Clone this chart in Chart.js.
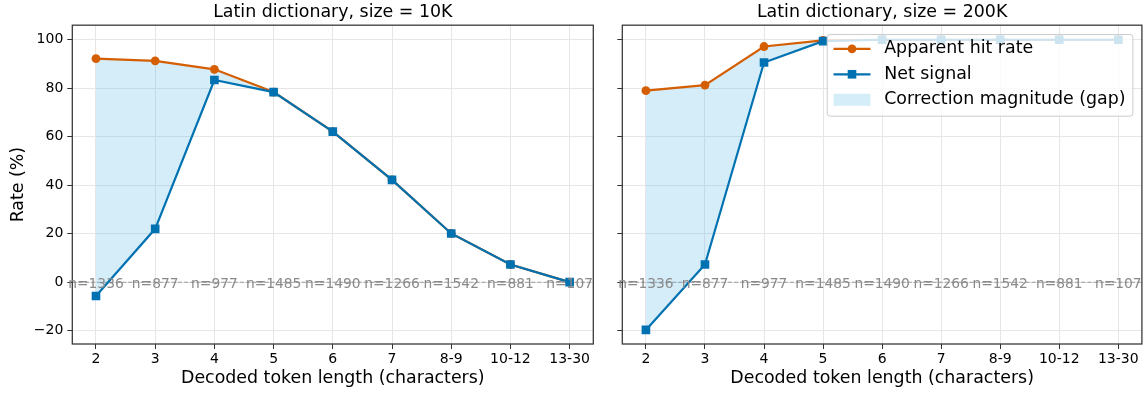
<!DOCTYPE html>
<html>
<head>
  <meta charset="utf-8">
  <title>Latin dictionary: apparent hit rate vs net signal</title>
  <script src="https://cdn.jsdelivr.net/npm/chart.js"></script>
  <style>
    body {
      margin: 0;
      background: #ffffff;
    }

    .panel {
      position: absolute;
      top: 0;
      height: 393px;
    }

    #left { left: 0; width: 600px; }
    #right { left: 600px; width: 548px; }
  </style>
</head>
<body>

  <div class="panel" id="left"><canvas id="chart10k"></canvas></div>
  <div class="panel" id="right"><canvas id="chart200k"></canvas></div>

  <script>
    // data
    const categories = ['2', '3', '4', '5', '6', '7', '8-9', '10-12', '13-30'];
    const sampleSizes = [1336, 877, 977, 1485, 1490, 1266, 1542, 881, 107];

    const apparent10k = [92.2, 91.3, 87.8, 78.4, 62.1, 42.2, 20.1, 7.3, 0.0];
    const net10k = [-5.7, 22.0, 83.4, 78.4, 62.1, 42.2, 20.1, 7.3, 0.0];

    const apparent200k = [79.0, 81.3, 97.2, 99.7, 100, 100, 100, 100, 100];
    const net200k = [-19.7, 7.3, 90.6, 99.4, 100, 100, 100, 100, 100];

    const yTicks = [-20, 0, 20, 40, 60, 80, 100];

    const ORANGE = '#D55E00';
    const BLUE = '#0072B2';
    const GAP_FILL = 'rgba(86,180,233,0.25)';
    const FONT = '"DejaVu Sans", sans-serif';

    Chart.defaults.font.family = FONT;
    Chart.defaults.color = '#000';

    const toPoints = vals => vals.map((v, i) => ({ x: i, y: v }));
    const fmtY = v => (v < 0 ? '\u2212' + Math.abs(v) : String(v));

    // matplotlib-style legend box, upper right inside the axes
    function drawLegend(chart) {
      const { ctx, chartArea: a } = chart;
      const fs = 17.4;
      const ds = chart.data.datasets;
      ctx.save();
      ctx.font = fs + 'px ' + FONT;
      const textW = Math.max(...ds.map(d => ctx.measureText(d.label).width));
      const pad = 6.3, handle = 37, gap = 13.7, rowH = 25.5;
      const w = pad + handle + gap + textW + pad + 1;
      const h = 81.7;
      const right = a.right - 9;
      const top = a.top + 9.3;
      const left = right - w;

      ctx.beginPath();
      ctx.roundRect(left, top, w, h, 3);
      ctx.fillStyle = 'rgba(255,255,255,0.8)';
      ctx.fill();
      ctx.strokeStyle = '#cccccc';
      ctx.lineWidth = 1;
      ctx.stroke();

      ds.forEach((d, i) => {
        const cy = top + 14.3 + i * rowH;
        const x0 = left + pad, x1 = x0 + handle, xm = (x0 + x1) / 2;
        if (d.fill === false) {
          ctx.strokeStyle = d.borderColor;
          ctx.lineWidth = d.borderWidth;
          ctx.beginPath();
          ctx.moveTo(x0, cy);
          ctx.lineTo(x1, cy);
          ctx.stroke();
          ctx.fillStyle = d.borderColor;
          ctx.beginPath();
          if (d.pointStyle === 'rect') {
            const s = d.pointRadius * Math.SQRT1_2;
            ctx.rect(xm - s, cy - s, 2 * s, 2 * s);
          } else {
            ctx.arc(xm, cy, d.pointRadius, 0, Math.PI * 2);
          }
          ctx.fill();
        } else {
          ctx.fillStyle = d.backgroundColor;
          ctx.fillRect(x0, cy - 6, handle, 12);
        }
        ctx.fillStyle = '#000';
        ctx.textAlign = 'left';
        ctx.textBaseline = 'middle';
        ctx.fillText(d.label, x1 + gap, cy);
      });
      ctx.restore();
    }

    function makePanel(canvasId, title, apparent, net, isLeft) {
      const decor = {
        id: 'decor',
        beforeDatasetsDraw(chart) {
          const { ctx, chartArea: a, scales: { y } } = chart;
          const y0 = y.getPixelForValue(0);
          ctx.save();
          ctx.strokeStyle = 'rgba(128,128,128,0.75)';
          ctx.lineWidth = 1.1;
          ctx.setLineDash([4.3, 1.9]);
          ctx.beginPath();
          ctx.moveTo(a.left, y0);
          ctx.lineTo(a.right, y0);
          ctx.stroke();
          ctx.restore();
        },
        afterDatasetsDraw(chart) {
          const { ctx, chartArea: a, scales: { x, y } } = chart;
          ctx.save();
          ctx.strokeStyle = '#333';
          ctx.lineWidth = 1.25;
          ctx.strokeRect(a.left, a.top, a.right - a.left, a.bottom - a.top);

          ctx.font = '13.8px ' + FONT;
          ctx.fillStyle = '#8a8a8a';
          ctx.textAlign = 'center';
          ctx.textBaseline = 'middle';
          const y0 = y.getPixelForValue(0) + 2;
          sampleSizes.forEach((n, i) => ctx.fillText('n=' + n, x.getPixelForValue(i), y0));
          ctx.restore();
        },
        afterDraw(chart) {
          if (!isLeft) drawLegend(chart);
        }
      };

      return new Chart(document.getElementById(canvasId), {
        type: 'line',
        data: {
          datasets: [
            {
              label: 'Apparent hit rate',
              data: toPoints(apparent),
              borderColor: ORANGE,
              backgroundColor: ORANGE,
              borderWidth: 2.2,
              pointStyle: 'circle',
              pointRadius: 4.4,
              pointBorderWidth: 0,
              fill: false,
              order: 1
            },
            {
              label: 'Net signal',
              data: toPoints(net),
              borderColor: BLUE,
              backgroundColor: BLUE,
              borderWidth: 2.2,
              pointStyle: 'rect',
              pointRadius: 6.1,
              pointBorderWidth: 0,
              fill: false,
              order: 0
            },
            {
              label: 'Correction magnitude (gap)',
              data: toPoints(apparent),
              borderWidth: 0,
              borderColor: 'rgba(0,0,0,0)',
              backgroundColor: GAP_FILL,
              pointRadius: 0,
              fill: 1,
              order: 2
            }
          ]
        },
        options: {
          responsive: true,
          maintainAspectRatio: false,
          animation: false,
          events: [],
          layout: { padding: { left: 0, right: isLeft ? 6.7 : 4, top: 0, bottom: 0 } },
          plugins: {
            legend: { display: false },
            tooltip: { enabled: false },
            title: {
              display: true,
              text: title,
              fullSize: false,
              color: '#000',
              font: { size: 17.4, weight: 'normal' },
              padding: { top: 2, bottom: 2.3 }
            }
          },
          scales: {
            x: {
              type: 'linear',
              min: -0.4,
              max: 8.4,
              afterBuildTicks: s => { s.ticks = categories.map((c, i) => ({ value: i })); },
              afterFit: s => { s.height = 49; },
              ticks: {
                callback: v => categories[v],
                font: { size: 14 },
                color: '#000',
                padding: 2,
                maxRotation: 0,
                autoSkip: false
              },
              grid: { color: '#e6e6e6', tickColor: '#333', tickLength: 5 },
              border: { display: false },
              title: {
                display: true,
                text: 'Decoded token length (characters)',
                color: '#000',
                font: { size: 17.4 },
                padding: { top: 0, bottom: 4 }
              }
            },
            y: {
              min: -25.5,
              max: 106,
              afterBuildTicks: s => { s.ticks = yTicks.map(v => ({ value: v })); },
              afterFit: s => { s.width = isLeft ? 72.3 : 22.3; },
              ticks: {
                callback: v => (isLeft ? fmtY(v) : ''),
                font: { size: 14 },
                color: '#000',
                padding: 4
              },
              grid: { color: '#e6e6e6', tickColor: '#333', tickLength: 5 },
              border: { display: false },
              title: {
                display: isLeft,
                text: 'Rate (%)',
                color: '#000',
                font: { size: 17.4 },
                padding: { top: 8, bottom: 0 }
              }
            }
          }
        },
        plugins: [decor]
      });
    }

    makePanel('chart10k', 'Latin dictionary, size = 10K', apparent10k, net10k, true);
    makePanel('chart200k', 'Latin dictionary, size = 200K', apparent200k, net200k, false);
  </script>
</body>
</html>
